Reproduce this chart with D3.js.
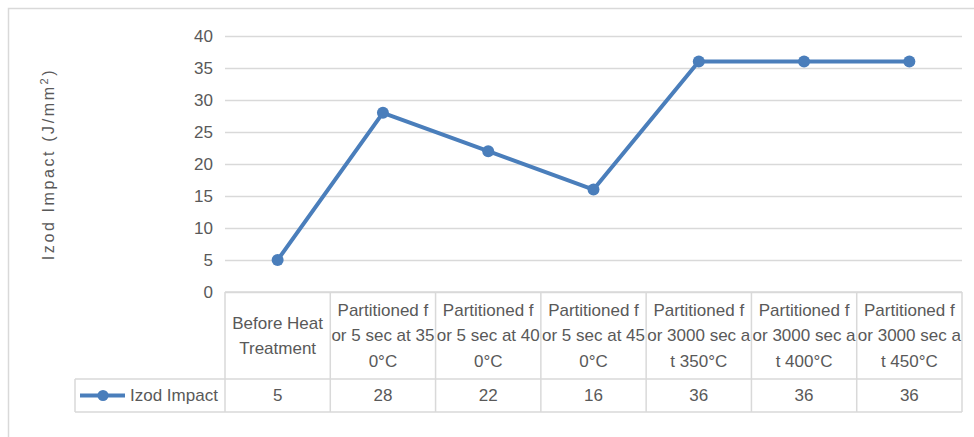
<!DOCTYPE html>
<html><head><meta charset="utf-8">
<script src="https://cdn.jsdelivr.net/npm/d3@7"></script>
<style>body{margin:0;background:#fff}svg{display:block}</style>
</head><body><svg id="c" width="974" height="437"></svg>
<script>
const categories = ["Before Heat Treatment","Partitioned for 5 sec at 350°C","Partitioned for 5 sec at 400°C","Partitioned for 5 sec at 450°C","Partitioned for 3000 sec at 350°C","Partitioned for 3000 sec at 400°C","Partitioned for 3000 sec at 450°C"];
const categoryLines = [["Before Heat","Treatment"],["Partitioned f","or 5 sec at 35","0°C"],["Partitioned f","or 5 sec at 40","0°C"],["Partitioned f","or 5 sec at 45","0°C"],["Partitioned f","or 3000 sec a","t 350°C"],["Partitioned f","or 3000 sec a","t 400°C"],["Partitioned f","or 3000 sec a","t 450°C"]];
const izodImpact = [5, 28, 22, 16, 36, 36, 36];
const yTicks = [0,5,10,15,20,25,30,35,40];
const seriesName = "Izod Impact";

(function(){
const svg = d3.select("#c");
const font = "'Liberation Sans', Arial, sans-serif";
const gray = "#595959", gridC = "#d9d9d9", blue = "#4a7ebb";
const pL = 225, pR = 962, pT = 36, pB = 292;
const x = d3.scaleBand().domain(categories).range([pL, pR]);
const y = d3.scaleLinear().domain([0, 40]).range([pB, pT]);

// chart border
svg.append("rect").attr("x",8.5).attr("y",8.5).attr("width",990).attr("height",450)
  .attr("fill","none").attr("stroke",gridC).attr("stroke-width",1.5);

// gridlines
const yAxis = d3.axisLeft(y).tickValues(yTicks).tickSize(-(pR-pL)).tickPadding(12);
const gy = svg.append("g").attr("transform",`translate(${pL},0)`).call(yAxis);
gy.select(".domain").remove();
gy.selectAll(".tick line").attr("stroke",gridC).attr("stroke-width",1.5);
gy.selectAll(".tick text").attr("fill",gray).style("font-family",font).style("font-size","17px");

// y title
svg.append("text").attr("transform",`translate(54,${(65+263)/2}) rotate(-90)`)
  .attr("text-anchor","middle").attr("fill",gray).style("font-family",font).style("font-size","16px")
  .style("letter-spacing","2.6px")
  .html("Izod Impact (J/mm<tspan dy='-6' font-size='11px'>2</tspan><tspan dy='6'>)</tspan>");

// table
const rowTop = pB, rowMid = 379, rowBot = 412, legLeft = 75;
const tbl = svg.append("g").attr("stroke",gridC).attr("stroke-width",1.5);
tbl.append("line").attr("x1",pL).attr("x2",pR).attr("y1",rowTop).attr("y2",rowTop);
tbl.append("line").attr("x1",legLeft).attr("x2",pR).attr("y1",rowMid).attr("y2",rowMid);
tbl.append("line").attr("x1",legLeft).attr("x2",pR).attr("y1",rowBot).attr("y2",rowBot);
tbl.append("line").attr("x1",legLeft).attr("x2",legLeft).attr("y1",rowMid).attr("y2",rowBot);
const bounds = categories.map(c=>x(c)).concat([pR]);
bounds.forEach(b=>tbl.append("line").attr("x1",b).attr("x2",b).attr("y1",rowTop).attr("y2",rowBot));

// header labels
categories.forEach((c,i)=>{
  const lines = categoryLines[i];
  const lh = 25.5;
  const cy = (rowTop+rowMid)/2 - (lines.length-1)*lh/2;
  const t = svg.append("text").attr("text-anchor","middle").attr("fill",gray)
    .style("font-family",font).style("font-size","17px");
  lines.forEach((l,j)=>t.append("tspan").attr("x",x(c)+x.bandwidth()/2).attr("y",cy+j*lh).attr("dy","0.35em").text(l));
  svg.append("text").attr("x",x(c)+x.bandwidth()/2).attr("y",(rowMid+rowBot)/2).attr("dy","0.35em")
    .attr("text-anchor","middle").attr("fill",gray).style("font-family",font).style("font-size","17px")
    .text(izodImpact[i]);
});

// legend
const ly = (rowMid+rowBot)/2;
svg.append("line").attr("x1",80).attr("x2",125).attr("y1",ly).attr("y2",ly).attr("stroke",blue).attr("stroke-width",4);
svg.append("circle").attr("cx",103).attr("cy",ly).attr("r",5.5).attr("fill",blue);
svg.append("text").attr("x",130).attr("y",ly).attr("dy","0.35em").attr("fill",gray)
  .style("font-family",font).style("font-size","17px").text(seriesName);

// line
const cx = c=>x(c)+x.bandwidth()/2;
const line = d3.line().x((d,i)=>cx(categories[i])).y(d=>y(d));
svg.append("path").datum(izodImpact).attr("d",line).attr("fill","none").attr("stroke",blue)
  .attr("stroke-width",4).attr("stroke-linejoin","round");
svg.selectAll(".pt").data(izodImpact).enter().append("circle")
  .attr("cx",(d,i)=>cx(categories[i])).attr("cy",d=>y(d)).attr("r",6).attr("fill",blue);
})();
</script></body></html>
